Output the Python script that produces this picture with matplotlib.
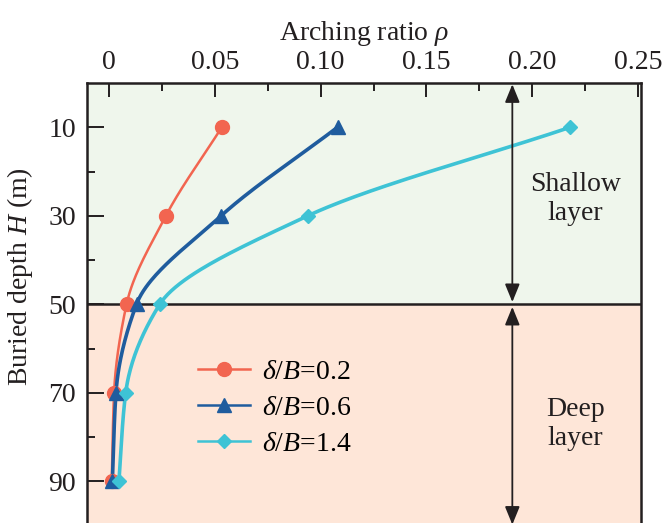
import matplotlib
matplotlib.use('Agg')
import matplotlib.pyplot as plt
import numpy as np

plt.rcParams['font.family'] = 'Liberation Serif'
plt.rcParams['mathtext.fontset'] = 'custom'
plt.rcParams['mathtext.rm'] = 'Liberation Serif'
plt.rcParams['mathtext.it'] = 'Liberation Serif:italic'

# data
depth = [10, 30, 50, 70, 90]
rho_02 = [0.0533, 0.0269, 0.0083, 0.0024, 0.0013]
rho_06 = [0.108, 0.053, 0.0130, 0.0033, 0.0016]
rho_14 = [0.218, 0.094, 0.024, 0.0079, 0.0047]
labels = [r'$\delta/B$=0.2', r'$\delta/B$=0.6', r'$\delta/B$=1.4']

c_red = '#F26550'
c_blue = '#1F5C9E'
c_cyan = '#3EC3D5'
ink = '#231F20'
fs = 20


def pchip(xk, yk, n=200):
    # monotone cubic (Fritsch-Carlson) for a smooth line through the points
    xk = np.asarray(xk, float)
    yk = np.asarray(yk, float)
    h = np.diff(xk)
    d = np.diff(yk) / h
    m = np.zeros_like(yk)
    m[0], m[-1] = d[0], d[-1]
    for i in range(1, len(xk) - 1):
        if d[i - 1] * d[i] > 0:
            w1 = 2 * h[i] + h[i - 1]
            w2 = h[i] + 2 * h[i - 1]
            m[i] = (w1 + w2) / (w1 / d[i - 1] + w2 / d[i])
    xs = np.linspace(xk[0], xk[-1], n)
    idx = np.clip(np.searchsorted(xk, xs) - 1, 0, len(xk) - 2)
    t = (xs - xk[idx]) / h[idx]
    h00 = 2 * t**3 - 3 * t**2 + 1
    h10 = t**3 - 2 * t**2 + t
    h01 = -2 * t**3 + 3 * t**2
    h11 = t**3 - t**2
    ys = h00 * yk[idx] + h10 * h[idx] * m[idx] + h01 * yk[idx + 1] + h11 * h[idx] * m[idx + 1]
    return xs, ys


fig = plt.figure(figsize=(6.65, 5.23), dpi=100)
ax = fig.add_axes([0.1308, -0.0048, 0.8331, 0.8461])
ax.set_xlim(-0.0104, 0.2514)
ax.set_ylim(100, 0)

# shallow / deep background
ax.axhspan(0, 50, color='#EFF6EC', zorder=0)
ax.axhspan(50, 100, color='#FEE6D8', zorder=0)
ax.axhline(50, color=ink, lw=1.8, zorder=1)

series = [(rho_02, c_red, 'o', 1.8), (rho_06, c_blue, '^', 2.6), (rho_14, c_cyan, 'D', 2.6)]
for (vals, col, mk, lw), lab in zip(series, labels):
    hs, xs = pchip(depth, vals)
    ax.plot(xs, hs, color=col, lw=lw, zorder=3)
    ms = 7.5 if mk == 'D' else 10
    ax.plot(vals, depth, linestyle='none', marker=mk, color=col, ms=ms, zorder=4)
    ax.plot([], [], color=col, lw=1.8, marker=mk, ms=ms, label=lab)

# layer arrows
astyle = '<|-|>,head_length=1.1,head_width=0.45'
ax.annotate('', xy=(0.1906, 0.3), xytext=(0.1906, 49.5),
            arrowprops=dict(arrowstyle=astyle, color=ink, lw=1.3, shrinkA=0, shrinkB=0))
ax.annotate('', xy=(0.1906, 50.6), xytext=(0.1906, 99.8),
            arrowprops=dict(arrowstyle=astyle, color=ink, lw=1.3, shrinkA=0, shrinkB=0))
ax.text(0.2205, 26.3, 'Shallow\nlayer', ha='center', va='center', fontsize=fs, color=ink, linespacing=1.2)
ax.text(0.2205, 77.0, 'Deep\nlayer', ha='center', va='center', fontsize=fs, color=ink, linespacing=1.2)

# axes styling
ax.xaxis.set_label_position('top')
ax.xaxis.tick_top()
ax.set_xticks([0, 0.05, 0.10, 0.15, 0.20, 0.25])
ax.set_xticklabels(['0', '0.05', '0.10', '0.15', '0.20', '0.25'])
ax.set_xticks(np.arange(0.025, 0.25, 0.05), minor=True)
ax.set_yticks([10, 30, 50, 70, 90])
ax.set_yticks([20, 40, 60, 80], minor=True)
ax.tick_params(which='both', direction='in', width=1.4, color=ink, labelsize=fs, labelcolor=ink)
ax.tick_params(axis='x', which='major', length=10, pad=6)
ax.tick_params(axis='x', which='minor', length=6)
ax.tick_params(axis='y', which='major', length=12, pad=8)
ax.tick_params(axis='y', which='minor', length=6)
ax.tick_params(axis='y', right=False)
for s in ax.spines.values():
    s.set_color(ink)
    s.set_linewidth(1.8)
ax.spines['bottom'].set_visible(False)

ax.set_xlabel(r'Arching ratio $\rho$', fontsize=fs, color=ink, labelpad=7)
ax.set_ylabel(r'Buried depth $H$ (m)', fontsize=fs, color=ink)
ax.yaxis.set_label_coords(-0.094, 0.562)

ax.legend(loc='upper left', bbox_to_anchor=(0.2, 0.376), frameon=False, fontsize=fs,
          handlelength=1.87, handletextpad=0.43, labelspacing=0.38, borderpad=0, borderaxespad=0)

fig.savefig('out.png', dpi=100)
